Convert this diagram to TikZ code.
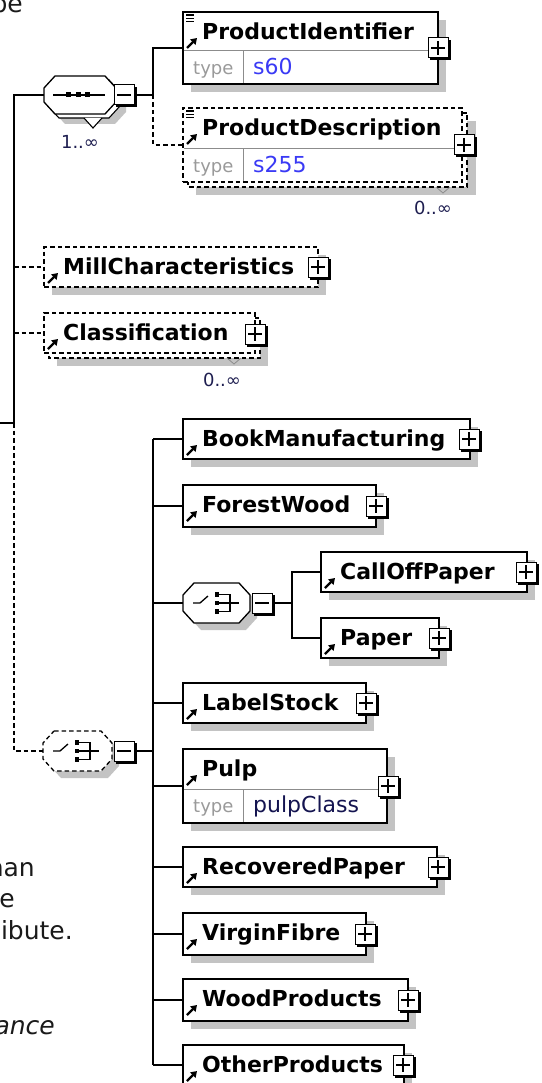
\documentclass[tikz,border=0pt]{standalone}
\usepackage{fontspec}
\setmainfont{DejaVu Sans}
\usetikzlibrary{fit,arrows.meta}
\definecolor{shd}{HTML}{C3C3C3}
\definecolor{tgray}{HTML}{9A9A9A}
\definecolor{dgray}{HTML}{8C8C8C}
\definecolor{tblue}{HTML}{3A3AF5}
\definecolor{tnavy}{HTML}{141450}
\definecolor{occc}{HTML}{1E1E50}
\definecolor{docc}{HTML}{1A1A1A}
\tikzset{
  ln/.style={line width=1.4pt, black},
  dsh/.style={dash pattern=on 4.5pt off 3pt},
  ebox/.style={draw, line width=1.3pt, fill=white, inner sep=0pt},
  sqbox/.style={draw, fill=white, line width=1pt, minimum size=20pt, inner sep=0pt},
  nm/.style={anchor=base west, inner sep=0pt, font=\fontsize{22}{26}\selectfont\bfseries},
  tl/.style={anchor=base west, inner sep=0pt, text=tgray, font=\fontsize{18}{22}\selectfont},
  tv/.style={anchor=base west, inner sep=0pt, font=\fontsize{22}{26}\selectfont},
  divl/.style={line width=1pt, dgray},
  ptr/.style={line width=2.4pt, -{Triangle[length=6pt,width=7.5pt]}},
  occ/.style={inner sep=0pt, text=occc, font=\fontsize{18}{20}\selectfont},
  doc/.style={anchor=base east, inner sep=0pt, text=docc, font=\fontsize{25}{30}\selectfont},
  octl/.style={line width=1.3pt, fill=white},
}
\newcommand\Shd[4]{\fill[shd] (#1,#2) rectangle (#3,#4);}
\newcommand\PlusBox[3]{%
  \fill ({#2-8},{#3-8}) rectangle ({#2+12.5},{#3+12.5});
  \node[sqbox] (#1) at ({#2},{#3}) {};
  \draw[line width=1.2pt] ({#2-7},{#3}) -- ({#2+7},{#3}) ({#2},{#3-7}) -- ({#2},{#3+7});}
\newcommand\MinusBox[3]{%
  \fill ({#2-8},{#3-8}) rectangle ({#2+12.5},{#3+12.5});
  \node[sqbox] (#1) at ({#2},{#3}) {};
  \draw[line width=1.2pt] ({#2-7},{#3}) -- ({#2+7},{#3});}
\newcommand\Elem[7]{%
  \node[ebox,#7,fit={(#2,#3) (#4,#5)}] (#1) {};
  \node[nm] (#1-n) at ({#2+19},{#3+27.5}) {#6};
  \draw[ptr] ({#2+4},{#3+36}) -- ({#2+14},{#3+26});}
\newcommand\TypeRow[7]{%
  \draw[divl] ({#2+0.7},{#4}) -- ({#3-0.7},{#4});
  \draw[divl] ({#2+60},{#4}) -- ({#2+60},{#5-0.7});
  \node[tl] (#1-tl) at ({#2+10},{#4+23.5}) {type};
  \node[tv,text=#7] (#1-tv) at ({#2+70},{#4+23.5}) {#6};}
\newcommand\SimpIcon[2]{\draw[line width=1.1pt] ({#1+3},{#2+3}) -- ({#1+11},{#2+3}) ({#1+3},{#2+6.3}) -- ({#1+11},{#2+6.3}) ({#1+3},{#2+9.6}) -- ({#1+11},{#2+9.6});}
\newcommand\Oct[4]{({#1+11},{#2}) -- ({#3-11},{#2}) -- ({#3},{#2+12}) -- ({#3},{#4-12}) -- ({#3-11},{#4}) -- ({#1+11},{#4}) -- ({#1},{#4-12}) -- ({#1},{#2+12}) -- cycle}
\newcommand\ChoiceIcon[2]{%
  \draw[line width=1.3pt] ({#1+10},{#2}) -- ({#1+17},{#2}) -- ({#1+25},{#2-7});
  \fill ({#1+31.5},{#2-10.75}) rectangle ({#1+36},{#2-6.25});
  \fill ({#1+31.5},{#2-2.25}) rectangle ({#1+36},{#2+2.25});
  \fill ({#1+31.5},{#2+6.25}) rectangle ({#1+36},{#2+10.75});
  \draw[line width=1.2pt] ({#1+36},{#2-8.5}) -- ({#1+47},{#2-8.5}) -- ({#1+47},{#2+8.5}) -- ({#1+36},{#2+8.5}) ({#1+36},{#2}) -- ({#1+56},{#2});}
\begin{document}
\begin{tikzpicture}[x=1pt,y=-1pt]
\useasboundingbox (0,0) rectangle (541,1083);

% fragments of the page text on the left
\node[doc] (d0) at (23,13) {be};
\node[doc] (d1) at (35,876) {han};
\node[doc] (d2) at (15,907) {e};
\node[doc] (d3) at (73,939) {ibute.};
\node[doc,font=\fontsize{25}{30}\selectfont\itshape] (d4) at (55,1034) {ance};

% sequence compositor (1..inf)
\fill[shd] \Oct{54}{86}{126}{124};
\draw[line width=1.1pt, fill=white] \Oct{48}{80}{120}{118};
\draw[line width=1.1pt, fill=white] (84,118) -- (93,128) -- (102,118);
\node[fit={(44,76) (116,114)}, inner sep=0pt] (seq) {};
\draw[octl] \Oct{44}{76}{116}{114};
\draw[line width=1.3pt] (53,95) -- (105,95);
\fill (66,92.5) rectangle (71,97.5);
\fill (75.5,92.5) rectangle (80.5,97.5);
\fill (85,92.5) rectangle (90,97.5);
\MinusBox{seqm}{124}{95}
\node[occ] (seqo) at (80,142) {1..∞};

% ProductIdentifier
\Shd{191}{20}{446}{92}
\Elem{pid}{183}{12}{438}{84}{ProductIdentifier}{}
\TypeRow{pid}{183}{438}{51}{84}{s60}{tblue}
\SimpIcon{183}{12}
\PlusBox{pidp}{438}{48}

% ProductDescription (0..inf)
\Shd{196}{121}{476}{195}
\draw[ebox,dsh] (188,113) rectangle (467,187);
\Elem{pd}{183}{108}{462}{182}{ProductDescription}{dsh}
\TypeRow{pd}{183}{462}{149}{182}{s255}{tblue}
\SimpIcon{183}{108}
\PlusBox{pdp}{464}{145}
\draw[line width=0.8pt, dgray] (436,187) -- (443,193) -- (450,187);
\node[occ] (pdo) at (433,207.5) {0..∞};

% MillCharacteristics
\Shd{52}{255}{326}{295}
\Elem{mill}{44}{247}{318}{287}{MillCharacteristics}{dsh}
\PlusBox{millp}{318}{267}

% Classification (0..inf)
\Shd{57}{326}{268}{366}
\draw[ebox,dsh] (49,318) rectangle (260,358);
\Elem{cls}{44}{313}{255}{353}{Classification}{dsh}
\PlusBox{clsp}{255}{334}
\draw[line width=0.8pt, dgray] (227,358) -- (234,364) -- (241,358);
\node[occ] (clso) at (222,380) {0..∞};

% optional choice
\fill[shd] \Oct{50}{738}{119}{778};
\node[fit={(43,731) (112,771)}, inner sep=0pt] (ch1) {};
\draw[octl,dsh] \Oct{43}{731}{112}{771};
\ChoiceIcon{43}{751}
\MinusBox{ch1m}{124}{751}

% choice children
\Shd{191}{427}{478}{467}
\Elem{bm}{183}{419}{470}{459}{BookManufacturing}{}
\PlusBox{bmp}{469}{439}

\Shd{191}{493}{384}{535}
\Elem{fw}{183}{485}{376}{527}{ForestWood}{}
\PlusBox{fwp}{376}{506}

\fill[shd] \Oct{190}{590}{257}{630};
\node[fit={(183,583) (250,623)}, inner sep=0pt] (ch2) {};
\draw[octl] \Oct{183}{583}{250}{623};
\ChoiceIcon{183}{603}
\MinusBox{ch2m}{262}{603}

\Shd{329}{560}{535}{600}
\Elem{cop}{321}{552}{527}{592}{CallOffPaper}{}
\PlusBox{copp}{526}{572}

\Shd{329}{626}{447}{666}
\Elem{pap}{321}{618}{439}{658}{Paper}{}
\PlusBox{papp}{439}{638}

\Shd{191}{691}{374}{731}
\Elem{ls}{183}{683}{366}{723}{LabelStock}{}
\PlusBox{lsp}{366}{703}

\Shd{191}{757}{395}{831}
\Elem{pulp}{183}{749}{387}{823}{Pulp}{}
\TypeRow{pulp}{183}{387}{789}{823}{pulpClass}{tnavy}
\PlusBox{pulpp}{388}{786}

\Shd{191}{855}{445}{895}
\Elem{rp}{183}{847}{437}{887}{RecoveredPaper}{}
\PlusBox{rpp}{438}{867}

\Shd{191}{921}{374}{963}
\Elem{vf}{183}{913}{366}{955}{VirginFibre}{}
\PlusBox{vfp}{365}{934}

\Shd{191}{987}{416}{1029}
\Elem{wp}{183}{979}{408}{1021}{WoodProducts}{}
\PlusBox{wpp}{408}{1000}

\Shd{191}{1053}{412}{1093}
\Elem{op}{183}{1045}{404}{1085}{OtherProducts}{}
\PlusBox{opp}{403}{1065}

% connectors
\coordinate (m0) at (0,423);
\coordinate (mj) at (14,423);
\draw[ln] (m0) -- (mj) |- (seq.west);
\draw[ln,dsh] (mj) |- (ch1.west);
\draw[ln,dsh] (mill.west -| mj) -- (mill.west);
\draw[ln,dsh] (cls.west -| mj) -- (cls.west);

\coordinate (sj) at (153,95);
\draw[ln] (seqm.east) -- (sj) |- (pid.west);
\draw[ln,dsh] (sj) |- (pd.west);

\coordinate (cj) at (153,751);
\draw[ln] (ch1m.east) -- (cj);
\draw[ln] (bm.west -| cj) -- (op.west -| cj);
\foreach \n in {bm,fw,ch2,ls,pulp,rp,vf,wp,op} \draw[ln] (\n.west -| cj) -- (\n.west);

\coordinate (cj2) at (292,603);
\draw[ln] (ch2m.east) -- (cj2);
\draw[ln] (cj2) |- (cop.west);
\draw[ln] (cj2) |- (pap.west);
\end{tikzpicture}
\end{document}
